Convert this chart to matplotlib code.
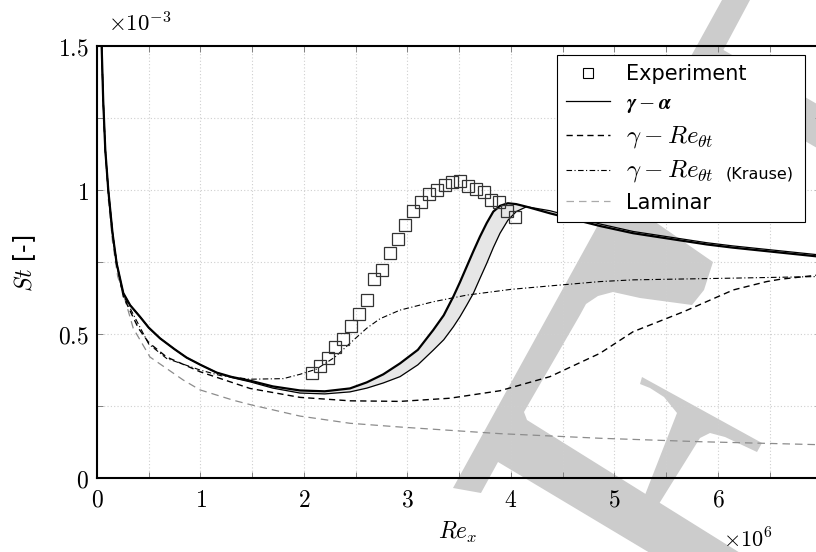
import matplotlib
matplotlib.use("Agg")
import matplotlib.pyplot as plt
from matplotlib.lines import Line2D
from matplotlib.patches import Polygon
from matplotlib.ticker import MultipleLocator, FuncFormatter

plt.rcParams['mathtext.fontset'] = 'cm'
plt.rcParams['font.family'] = ['DejaVu Sans']

# Re_x in units of 1e6, St in units of 1e-3
exp_re = [2.077, 2.155, 2.229, 2.302, 2.374, 2.451, 2.528, 2.606, 2.676, 2.754,
          2.831, 2.905, 2.979, 3.056, 3.128, 3.205, 3.282, 3.359, 3.433, 3.510,
          3.582, 3.659, 3.736, 3.810, 3.884, 3.958, 4.036]
exp_st = [0.366, 0.389, 0.416, 0.456, 0.484, 0.528, 0.569, 0.619, 0.692, 0.723,
          0.780, 0.831, 0.880, 0.928, 0.957, 0.987, 0.999, 1.017, 1.027, 1.031,
          1.014, 1.005, 0.992, 0.965, 0.959, 0.928, 0.905]

ga_re = [0.035, 0.045, 0.06, 0.08, 0.109, 0.15, 0.19, 0.254, 0.32, 0.415, 0.5,
         0.609, 0.75, 0.866, 1.0, 1.156, 1.3, 1.478, 1.7, 1.961, 2.2, 2.444,
         2.606, 2.766, 2.928, 3.1, 3.249, 3.35, 3.443, 3.507, 3.572, 3.636,
         3.70, 3.765, 3.829, 3.894, 3.97, 4.05, 4.15, 4.377, 4.86, 5.18, 5.89,
         6.14, 7.05]
ga_st_a = [1.62, 1.5, 1.31, 1.14, 1.0, 0.85, 0.745, 0.642, 0.6, 0.56, 0.522,
           0.485, 0.447, 0.418, 0.393, 0.366, 0.351, 0.338, 0.318, 0.304, 0.301,
           0.311, 0.332, 0.36, 0.398, 0.445, 0.514, 0.565, 0.63, 0.68, 0.734,
           0.787, 0.838, 0.885, 0.925, 0.945, 0.954, 0.951, 0.942, 0.919, 0.875,
           0.85, 0.811, 0.8, 0.766]
ga_st_b = [1.62, 1.5, 1.31, 1.14, 1.0, 0.85, 0.745, 0.642, 0.6, 0.56, 0.522,
           0.485, 0.447, 0.418, 0.393, 0.366, 0.349, 0.334, 0.312, 0.295, 0.292,
           0.299, 0.312, 0.33, 0.352, 0.393, 0.444, 0.48, 0.525, 0.56, 0.6,
           0.641, 0.693, 0.745, 0.80, 0.85, 0.895, 0.925, 0.942, 0.928, 0.882,
           0.856, 0.817, 0.806, 0.772]

ret_re = [0.035, 0.045, 0.06, 0.08, 0.109, 0.15, 0.19, 0.254, 0.4, 0.5, 0.673,
          0.995, 1.478, 1.961, 2.444, 2.928, 3.41, 3.894, 4.377, 4.86, 5.18,
          5.665, 6.148, 6.47, 6.6, 7.05]
ret_st = [1.62, 1.5, 1.31, 1.14, 1.0, 0.85, 0.745, 0.63, 0.52, 0.47, 0.42,
          0.369, 0.311, 0.28, 0.268, 0.266, 0.277, 0.303, 0.352, 0.433, 0.508,
          0.577, 0.653, 0.682, 0.69, 0.708]

kr_re = [0.035, 0.045, 0.06, 0.08, 0.109, 0.15, 0.19, 0.254, 0.5, 0.673, 0.995,
         1.2, 1.478, 1.8, 1.961, 2.12, 2.3, 2.42, 2.606, 2.734, 2.928, 3.249,
         3.572, 4.0, 4.377, 4.86, 5.18, 6.15, 7.05]
kr_st = [1.62, 1.5, 1.31, 1.14, 1.0, 0.85, 0.745, 0.635, 0.465, 0.415, 0.375,
         0.355, 0.343, 0.345, 0.36, 0.378, 0.42, 0.46, 0.52, 0.553, 0.583,
         0.612, 0.635, 0.655, 0.667, 0.682, 0.688, 0.694, 0.70]

lam_re = [0.035, 0.045, 0.06, 0.08, 0.109, 0.15, 0.2, 0.27, 0.35, 0.512, 0.834,
          0.995, 1.317, 1.478, 1.961, 2.444, 2.928, 3.894, 4.86, 5.83, 7.05]
lam_st = [1.62, 1.5, 1.3, 1.13, 0.97, 0.82, 0.70, 0.62, 0.52, 0.42, 0.34,
          0.306, 0.27, 0.255, 0.215, 0.19, 0.177, 0.154, 0.138, 0.126, 0.115]

labels = ['Experiment', r'$\boldsymbol{\gamma - \alpha}$', r'$\gamma - Re_{\theta t}$',
          r'$\gamma - Re_{\theta t}$' + ' ' * 11, 'Laminar']
label_sizes = [15, 15, 18, 18, 15]
krause_tag = '(Krause)'

W, H = 816, 552

# big grey letter in the background, outlines in pixels
watermark = [
    [(453, 488), (722, 0), (750, 0), (638, 210), (713, 262), (704, 290),
     (692, 305), (640, 298), (613, 292), (598, 296), (586, 304), (580, 315),
     (524, 412), (527, 420), (535, 425), (745, 556), (655, 556), (498, 462),
     (481, 493)],
    [(700, 80), (720, 48), (817, 104), (817, 148)],
    [(642, 377), (762, 443), (757, 452), (725, 437), (710, 433), (700, 438),
     (657, 507), (643, 500), (677, 413), (664, 397), (650, 388), (640, 384)],
]


def fig_xy(x, y):
    return (x / W, 1 - y / H)


def main():
    fig = plt.figure(figsize=(W / 100, H / 100), dpi=100)

    for shape in watermark:
        fig.add_artist(Polygon([fig_xy(x, y) for x, y in shape], closed=True,
                               transform=fig.transFigure, facecolor='#cccccc',
                               edgecolor='none', zorder=-1))

    ax = fig.add_axes([97 / W, (H - 478) / H, 724.5 / W, 432 / H])
    ax.set_facecolor('none')
    ax.set_xlim(0, 7)
    ax.set_ylim(0, 1.5)

    ax.fill_between(ga_re, ga_st_a, ga_st_b, color='#e6e6e6', lw=0, zorder=2)
    ax.plot(lam_re, lam_st, color='#8c8c8c', lw=0.9, dashes=(6, 4), zorder=3)
    ax.plot(ret_re, ret_st, color='black', lw=1.0, dashes=(4.5, 3), zorder=3)
    ax.plot(kr_re, kr_st, color='black', lw=0.8, dashes=(5, 2.2, 1, 2.2), zorder=3)
    ax.plot(ga_re, ga_st_b, color='black', lw=0.9, zorder=4)
    ax.plot(ga_re, ga_st_a, color='black', lw=1.6, zorder=4)
    ax.plot(exp_re, exp_st, 's', mfc='none', mec='#333333', ms=8, mew=0.9, zorder=5)

    ax.xaxis.set_major_locator(MultipleLocator(1))
    ax.xaxis.set_minor_locator(MultipleLocator(0.5))
    ax.yaxis.set_major_locator(MultipleLocator(0.5))
    ax.yaxis.set_minor_locator(MultipleLocator(0.25))
    fmt = FuncFormatter(lambda v, _: f'${v:g}$')
    ax.xaxis.set_major_formatter(fmt)
    ax.yaxis.set_major_formatter(fmt)
    ax.grid(which='both', color='#cfcfcf', linestyle=(0, (1, 2)), linewidth=0.8, zorder=1)
    ax.set_axisbelow(True)
    ax.tick_params(which='both', direction='in', top=True, right=True,
                   length=4.3, width=0.7, color='#808080', labelsize=17)
    ax.tick_params(axis='x', pad=7)
    ax.tick_params(axis='y', pad=6)
    for s in ax.spines.values():
        s.set_linewidth(1.5)

    fig.text(*fig_xy(108, 31), r'$\times10^{-3}$', fontsize=16.5, ha='left', va='baseline')
    fig.text(*fig_xy(723, 548), r'$\times10^{6}$', fontsize=16, ha='left', va='baseline')
    fig.text(*fig_xy(458, 532), r'$Re_x$', fontsize=17, ha='center', va='center')
    fig.text(*fig_xy(25, 263), r'$St$ [-]', fontsize=17, ha='center', va='center', rotation=90)

    handles = [
        Line2D([], [], ls='none', marker='s', mfc='none', mec='black', ms=6.5, mew=0.8),
        Line2D([], [], color='black', lw=0.9),
        Line2D([], [], color='black', lw=1.0, dashes=(4.5, 3)),
        Line2D([], [], color='black', lw=0.8, dashes=(5, 2.2, 1, 2.2)),
        Line2D([], [], color='#aaaaaa', lw=0.9, dashes=(6, 4)),
    ]
    leg = ax.legend(handles, labels, loc='upper right',
                    bbox_to_anchor=fig_xy(805, 55), bbox_transform=fig.transFigure,
                    borderaxespad=0, fontsize=15, fancybox=False, framealpha=1,
                    edgecolor='black', handlelength=2.1, handletextpad=0.8,
                    labelspacing=0.4, borderpad=0.45)
    leg.get_frame().set_linewidth(0.8)
    leg.set_zorder(10)
    for t, size in zip(leg.get_texts(), label_sizes):
        t.set_fontsize(size)

    # smaller tag in the trailing space of the fourth legend entry
    fig.canvas.draw()
    bb = leg.get_texts()[3].get_window_extent()
    fig.text((bb.x1 - 2) / W, (bb.y0 + 6) / H, krause_tag, fontsize=11.5,
             ha='right', va='baseline', zorder=11)

    fig.savefig('out.png', dpi=100)


if __name__ == '__main__':
    main()
